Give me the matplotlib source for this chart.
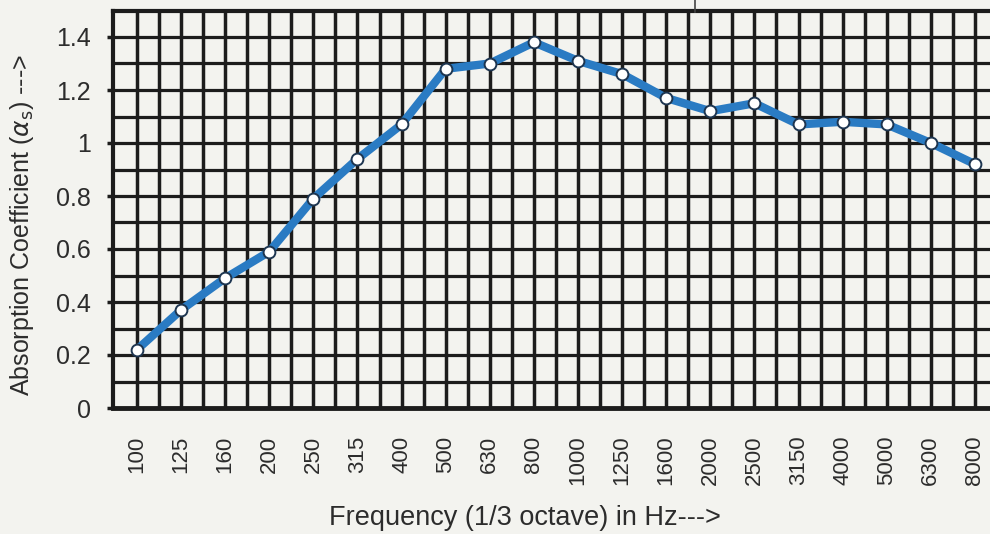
import matplotlib
matplotlib.use("Agg")
import matplotlib.pyplot as plt
from matplotlib.lines import Line2D
import numpy as np

frequencies = ["100", "125", "160", "200", "250", "315", "400", "500", "630", "800",
               "1000", "1250", "1600", "2000", "2500", "3150", "4000", "5000", "6300", "8000"]
absorption = [0.22, 0.37, 0.49, 0.59, 0.79, 0.94, 1.07, 1.28, 1.30, 1.38,
              1.31, 1.26, 1.17, 1.12, 1.15, 1.07, 1.08, 1.07, 1.00, 0.92]
y_ticks = [0, 0.2, 0.4, 0.6, 0.8, 1.0, 1.2, 1.4]
y_tick_labels = ["0", "0.2", "0.4", "0.6", "0.8", "1", "1.2", "1.4"]

plt.rcParams['font.family'] = ['Liberation Sans', 'DejaVu Sans']

paper = "#f3f3ef"
ink = "#1c1c1c"
text_c = "#2c2c2c"

fig = plt.figure(figsize=(9.9, 5.34), dpi=100, facecolor=paper)
ax = fig.add_axes([112.7 / 990, 1 - 408 / 534, (997 - 112.7) / 990, 397.5 / 534])
ax.set_facecolor(paper)

x = np.arange(len(frequencies))
ax.set_xlim(-0.55, len(frequencies) - 0.5)
ax.set_ylim(0, 1.5)

# grid
for gx in np.arange(0, len(frequencies), 0.5):
    ax.axvline(gx, color=ink, lw=2.5, zorder=1)
for gy in np.arange(0.1, 1.5, 0.1):
    ax.axhline(gy, color=ink, lw=2.3, zorder=1)

ax.plot(x, absorption, color="#2a7bc3", lw=6, solid_capstyle="round", zorder=3)
ax.plot(x, absorption, linestyle="none", marker="o", markersize=8.5,
        markerfacecolor="white", markeredgecolor="#1d3550", markeredgewidth=1.4, zorder=4)

for side in ["left", "bottom", "top"]:
    ax.spines[side].set_color(ink)
    ax.spines[side].set_linewidth(3)
ax.spines["bottom"].set_linewidth(3.5)
ax.spines["right"].set_visible(False)

ax.set_yticks(y_ticks)
ax.set_yticklabels(y_tick_labels)
ax.set_xticks(x)
ax.set_xticklabels(frequencies, rotation=90)
ax.tick_params(axis="y", length=4.5, width=2.5, color=ink, pad=11,
               labelsize=18, labelcolor=text_c)
ax.tick_params(axis="x", length=0, pad=20, labelsize=16, labelcolor=text_c)

fig.text(525 / 990, 1 - 518 / 534, "Frequency (1/3 octave) in Hz--->",
         ha="center", va="center", fontsize=19.5, color=text_c)
fig.text(22 / 990, 1 - 225 / 534, r"Absorption Coefficient ($\alpha_{\mathrm{s}}$) --->",
         ha="center", va="center", rotation=90, fontsize=18, color=text_c)

fig.add_artist(Line2D([695 / 990, 695 / 990], [1, 1 - 12 / 534], color="#444444", lw=1.2))

fig.savefig("out.png", dpi=100, facecolor=paper)
